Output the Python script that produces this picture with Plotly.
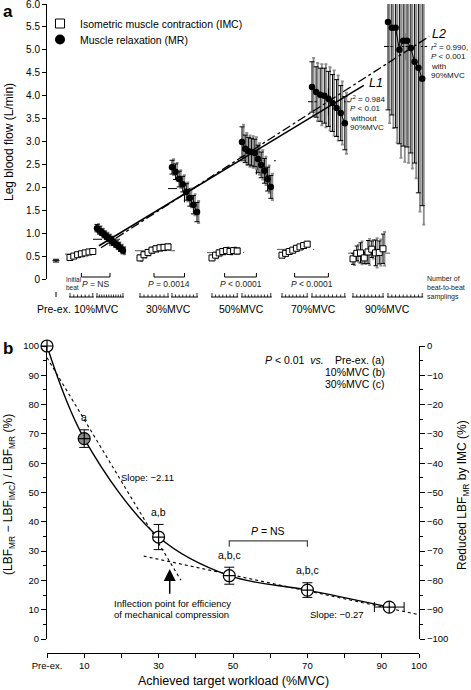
import plotly.graph_objects as go
import numpy as np

W, H = 471, 690
FONT = "Liberation Sans, Arial, Helvetica, sans-serif"


def px(x):
    return x / W


def py(y):
    return 1 - y / H


# ---------------- Panel a data (leg blood flow, L/min) ----------------
group_labels = ["10%MVC", "30%MVC", "50%MVC", "70%MVC", "90%MVC"]
preex_label = "Pre-ex."
preex_lbf = [0.40]
preex_sd = [0.03]

imc_10 = [0.47, 0.50, 0.53, 0.55, 0.57, 0.59, 0.60]
imc_30 = [0.46, 0.53, 0.58, 0.63, 0.66, 0.68, 0.69, 0.70]
imc_50 = [0.46, 0.52, 0.57, 0.60, 0.62, 0.60, 0.62, 0.61]
imc_70 = [0.52, 0.56, 0.60, 0.63, 0.67, 0.70, 0.73, 0.76]
imc_90 = [0.44, 0.56, 0.57, 0.46, 0.59, 0.65, 0.57, 0.58, 0.66]

imc_sd_10 = [0.04, 0.04, 0.04, 0.04, 0.04, 0.04, 0.04]
imc_sd_30 = [0.06, 0.06, 0.06, 0.06, 0.06, 0.06, 0.06, 0.06]
imc_sd_50 = [0.05, 0.06, 0.06, 0.06, 0.06, 0.06, 0.06, 0.06]
imc_sd_70 = [0.05, 0.05, 0.05, 0.05, 0.05, 0.05, 0.05, 0.05]
imc_sd_90 = [0.12, 0.16, 0.22, 0.12, 0.25, 0.18, 0.28, 0.25, 0.32]

mr_10 = [1.11, 1.06, 1.02, 0.97, 0.93, 0.89, 0.85, 0.80, 0.76, 0.72, 0.67, 0.62]
mr_30 = [2.44, 2.34, 2.18, 2.07, 1.90, 1.77, 1.62, 1.46]
mr_50 = [2.99, 2.84, 2.79, 2.77, 2.75, 2.62, 2.49, 2.36, 2.18, 2.01]
mr_70 = [4.19, 4.08, 4.02, 4.00, 3.93, 3.84, 3.73, 3.62, 3.40]
mr_90 = [5.61, 5.48, 5.48, 5.00, 5.20, 5.20, 5.04, 4.74, 4.61, 4.37]

mr_sd_10 = [0.08, 0.08, 0.07, 0.07, 0.07, 0.07, 0.07, 0.07, 0.07, 0.07, 0.07, 0.07]
mr_sd_30 = [0.15, 0.17, 0.17, 0.17, 0.18, 0.18, 0.20, 0.21]
mr_sd_50 = [0.33, 0.30, 0.30, 0.30, 0.30, 0.30, 0.28, 0.27, 0.26, 0.25]
mr_sd_70 = [0.55, 0.55, 0.58, 0.60, 0.60, 0.62, 0.62, 0.60, 0.58]
mr_sd_90 = [1.92, 1.90, 2.18, 2.05, 2.30, 2.32, 2.29, 2.21, 2.73, 2.77]

p_labels = ["<i>P</i> = NS", "<i>P</i> = 0.0014", "<i>P</i> < 0.0001", "<i>P</i> < 0.0001", ""]
r2_L1 = "0.984"
p_L1 = "< 0.01"
r2_L2 = "0.990"
p_L2 = "< 0.001"
legend_imc = "Isometric muscle contraction (IMC)"
legend_mr = "Muscle relaxation (MR)"
ytick_vals_a = [0, 0.5, 1.0, 1.5, 2.0, 2.5, 3.0, 3.5, 4.0, 4.5, 5.0, 5.5, 6.0]
ytick_text_a = ["0", "0.5", "1.0", "1.5", "2.0", "2.5", "3.0", "3.5", "4.0", "4.5", "5.0", "5.5", "6.0"]

# ---------------- Panel b data ----------------
workload = [0, 10, 30, 49, 70, 92]
reduction = [100, 68.4, 34.8, 21.6, 16.7, 10.9]
reduction_sd = [0, 3.0, 4.3, 2.9, 2.5, 0]
workload_sd = [0, 0, 0, 0, 0, 4.0]
sig_labels = ["", "a", "a,b", "a,b,c", "a,b,c", ""]
steep_slope, steep_intercept, steep_x = -2.11, 96.0, [0, 36]
shallow_slope, shallow_intercept, shallow_x = -0.27, 35.3, [26, 100]
xtick_vals_b = [0, 10, 30, 50, 70, 90, 100]
xtick_text_b = ["Pre-ex.", "10", "30", "50", "70", "90", "100"]

# ---------------- layout constants (pixel positions of sampling slots) ----------------
imc_sets = [imc_10, imc_30, imc_50, imc_70, imc_90]
imc_sds = [imc_sd_10, imc_sd_30, imc_sd_50, imc_sd_70, imc_sd_90]
mr_sets = [mr_10, mr_30, mr_50, mr_70, mr_90]
mr_sds = [mr_sd_10, mr_sd_30, mr_sd_50, mr_sd_70, mr_sd_90]
imc_start = [70, 140, 212, 282, 353]
imc_step = [3.8, 4.0, 3.6, 3.6, 3.75]
mr_start = [97, 172, 242, 312, 388]
mr_step = [2.36, 3.57, 3.2, 4.1, 3.8]
preex_x = 56
GRAY = "#8c8c8c"

fig = go.Figure()

imc_x = [[s + i * st for i in range(len(v))] for s, st, v in zip(imc_start, imc_step, imc_sets)]
mr_x = [[s + i * st for i in range(len(v))] for s, st, v in zip(mr_start, mr_step, mr_sets)]

# Pre-exercise
fig.add_trace(go.Scatter(x=[preex_x], y=preex_lbf, mode="markers", showlegend=False,
                         marker=dict(symbol="line-ew", size=5, line=dict(color="black", width=1)),
                         error_y=dict(type="data", array=preex_sd, color="black", thickness=1, width=3),
                         xaxis="x", yaxis="y"))

for g in range(5):
    xi, yi, si = imc_x[g], imc_sets[g], imc_sds[g]
    xm, ym, sm = mr_x[g], mr_sets[g], mr_sds[g]
    im = float(np.mean(yi))
    fig.add_trace(go.Scatter(x=[xi[0] - 5, xi[-1] + 7], y=[im, im], mode="lines", showlegend=False,
                             line=dict(color="#555", width=1, dash="dash"), hoverinfo="skip"))
    mm, mx = float(np.mean(ym)), float(np.mean(xm))
    half = 0.15 if g == 0 else 0.3
    fig.add_trace(go.Scatter(x=[xm[0] - 4, xm[-1] + 5], y=[mm, mm], mode="lines", showlegend=False,
                             line=dict(color="black", width=1, dash="dash"), hoverinfo="skip"))
    fig.add_trace(go.Scatter(x=[mx, mx], y=[mm - half, mm + half], mode="lines", showlegend=False,
                             line=dict(color="black", width=1, dash="dash"), hoverinfo="skip"))
    fig.add_trace(go.Scatter(x=[v + 1.6 for v in xi], y=yi, mode="markers", showlegend=False,
                             marker=dict(size=1, color="rgba(0,0,0,0)"),
                             error_y=dict(type="data", array=[s * 1.15 for s in si], color=GRAY,
                                          thickness=1.6, width=1.5), hoverinfo="skip"))
    fig.add_trace(go.Scatter(x=[v + 1.6 for v in xm], y=ym, mode="markers", showlegend=False,
                             marker=dict(size=1, color="rgba(0,0,0,0)"),
                             error_y=dict(type="data", array=[s * 1.15 for s in sm], color=GRAY,
                                          thickness=1.8, width=1.5), hoverinfo="skip"))
    fig.add_trace(go.Scatter(x=xi, y=yi, mode="markers", showlegend=False,
                             marker=dict(symbol="square", size=6, color="white",
                                         line=dict(color="black", width=1)),
                             error_y=dict(type="data", array=si, color="black", thickness=1, width=2)))
    fig.add_trace(go.Scatter(x=xm, y=ym, mode="lines+markers", showlegend=False,
                             line=dict(color="black", width=1),
                             marker=dict(symbol="circle", size=6.5, color="black"),
                             error_y=dict(type="data", array=sm, color="black", thickness=1, width=2.5)))

# regression lines L1 (10-70 %MVC) and L2 (10-90 %MVC) through group means
gx = [float(np.mean(x)) for x in mr_x]
gy = [float(np.mean(y)) for y in mr_sets]
b1, a1 = np.polyfit(gx[:4], gy[:4], 1)
b2, a2 = np.polyfit(gx, gy, 1)
L1x = [mr_x[0][0] + 2, mr_x[3][-1] + 19]
L2x = [mr_x[0][0] + 4, mr_x[4][-1] + 7]
fig.add_trace(go.Scatter(x=L1x, y=[a1 + b1 * v for v in L1x], mode="lines", showlegend=False,
                         line=dict(color="black", width=1.6)))
fig.add_trace(go.Scatter(x=L2x, y=[a2 + b2 * v for v in L2x], mode="lines", showlegend=False,
                         line=dict(color="black", width=1.3, dash="dashdot")))

# legend entries (one legend each so rows can sit exactly)
fig.add_trace(go.Scatter(x=[None], y=[None], mode="markers", name=legend_imc, legend="legend",
                         marker=dict(symbol="square", size=9, color="white", line=dict(color="black", width=1))))
fig.add_trace(go.Scatter(x=[None], y=[None], mode="markers", name=legend_mr, legend="legend2",
                         marker=dict(symbol="circle", size=10, color="black")))

shapes = []
annotations = []

ROW_Y = 297


def add_tickrow(xs):
    shapes.append(dict(type="line", xref="x", yref="paper", x0=xs[0] - 1, x1=xs[-1] + 1,
                       y0=py(ROW_Y), y1=py(ROW_Y), line=dict(color="black", width=1)))
    for k, v in enumerate(xs):
        h = 4 if k in (0, len(xs) - 1) else 2.5
        shapes.append(dict(type="line", xref="x", yref="paper", x0=v, x1=v,
                           y0=py(ROW_Y), y1=py(ROW_Y - h), line=dict(color="black", width=0.8)))


shapes.append(dict(type="line", xref="x", yref="paper", x0=preex_x, x1=preex_x,
                   y0=py(ROW_Y), y1=py(ROW_Y - 5), line=dict(color="black", width=1)))
for g in range(5):
    add_tickrow(imc_x[g])
    add_tickrow(mr_x[g])
    if p_labels[g]:
        bx0, bx1 = float(np.mean(imc_x[g])), float(np.mean(mr_x[g]))
        shapes.append(dict(type="path", xref="x", yref="paper",
                           path=f"M{bx0},{py(273)} L{bx0},{py(277)} L{bx1},{py(277)} L{bx1},{py(273)}",
                           line=dict(color="black", width=1)))
        annotations.append(dict(x=(bx0 + bx1) / 2, y=py(284), xref="x", yref="paper", text=p_labels[g],
                                showarrow=False, font=dict(size=8.5, color="#222"), xanchor="center",
                                yanchor="middle"))
    gc = (imc_x[g][0] + mr_x[g][-1]) / 2
    annotations.append(dict(x=gc, y=py(309), xref="x", yref="paper", text=group_labels[g], showarrow=False,
                            font=dict(size=10.5), xanchor="center", yanchor="middle"))
annotations.append(dict(x=54, y=py(309), xref="x", yref="paper", text=preex_label, showarrow=False,
                        font=dict(size=10.5), xanchor="center", yanchor="middle"))
annotations.append(dict(x=px(64), y=py(283.5), xref="paper", yref="paper", text="Initial<br>beat",
                        showarrow=False, font=dict(size=6.5, color="#222"), xanchor="left", yanchor="middle",
                        align="left"))
annotations.append(dict(x=px(425), y=py(288), xref="paper", yref="paper",
                        text="Number of<br>beat-to-beat<br>samplings", showarrow=False,
                        font=dict(size=7, color="#222"), xanchor="left", yanchor="middle", align="left"))

annotations.append(dict(x=px(367), y=py(83), xref="paper", yref="paper", text="<i>L1</i>", showarrow=False,
                        font=dict(size=12.5), xanchor="left", yanchor="middle"))
annotations.append(dict(x=px(430), y=py(34), xref="paper", yref="paper", text="<i>L2</i>", showarrow=False,
                        font=dict(size=12.5), xanchor="left", yanchor="middle"))
for i, t in enumerate([f"<i>r</i><sup>2</sup> = {r2_L1}", f"<i>P</i> {p_L1}", "without", "90%MVC"]):
    annotations.append(dict(x=px(348), y=py(99 + 9.5 * i), xref="paper", yref="paper", text=t, showarrow=False,
                            font=dict(size=8, color="#111"), xanchor="left", yanchor="middle"))
for i, t in enumerate([f"<i>r</i><sup>2</sup> = {r2_L2},", f"<i>P</i> {p_L2}", "with", "90%MVC"]):
    annotations.append(dict(x=px(429), y=py(47 + 9.5 * i), xref="paper", yref="paper", text=t, showarrow=False,
                            font=dict(size=8, color="#111"), xanchor="left", yanchor="middle"))

annotations.append(dict(x=px(1), y=py(0), xref="paper", yref="paper", text="<b>a</b>", showarrow=False,
                        font=dict(size=17), xanchor="left", yanchor="top"))
annotations.append(dict(x=px(1), y=py(337), xref="paper", yref="paper", text="<b>b</b>", showarrow=False,
                        font=dict(size=17), xanchor="left", yanchor="top"))
annotations.append(dict(x=px(9), y=py(142), xref="paper", yref="paper", text="Leg blood flow (L/min)",
                        showarrow=False, textangle=-90, font=dict(size=12), xanchor="center", yanchor="middle"))

# ---------------- Panel b traces ----------------
fig.add_trace(go.Scatter(x=workload, y=reduction, mode="lines",
                         line=dict(color="black", width=1.4, shape="spline", smoothing=1.0),
                         showlegend=False, xaxis="x2", yaxis="y2", cliponaxis=False))
fig.add_trace(go.Scatter(x=steep_x, y=[steep_intercept + steep_slope * v for v in steep_x], mode="lines",
                         line=dict(color="black", width=1.1, dash="dot"), showlegend=False,
                         xaxis="x2", yaxis="y2", cliponaxis=False))
fig.add_trace(go.Scatter(x=shallow_x, y=[shallow_intercept + shallow_slope * v for v in shallow_x], mode="lines",
                         line=dict(color="black", width=1.1, dash="dot"), showlegend=False,
                         xaxis="x2", yaxis="y2", cliponaxis=False))
fill_cols = ["white", "#8a8a8a", "white", "white", "white", "white"]
fig.add_trace(go.Scatter(x=workload, y=reduction, mode="markers", showlegend=False, xaxis="x2", yaxis="y2",
                         cliponaxis=False,
                         marker=dict(symbol="circle-cross", size=12, color=fill_cols,
                                     line=dict(color="black", width=1.2)),
                         error_y=dict(type="data", array=reduction_sd, color="black", thickness=1, width=5),
                         error_x=dict(type="data", array=workload_sd, color="black", thickness=1, width=5)))
fig.add_trace(go.Scatter(x=workload, y=[r - 100 for r in reduction], mode="markers", showlegend=False,
                         marker=dict(opacity=0), xaxis="x2", yaxis="y3", hoverinfo="skip"))

for xv, yv, sd, lab in zip(workload, reduction, reduction_sd, sig_labels):
    if lab:
        annotations.append(dict(x=xv, y=yv + sd + 1.5, xref="x2", yref="y2", text=lab, showarrow=False,
                                font=dict(size=10.5), xanchor="center", yanchor="bottom"))

xi_inf = (shallow_intercept - steep_intercept) / (steep_slope - shallow_slope)
yi_inf = steep_intercept + steep_slope * xi_inf
annotations.append(dict(x=xi_inf, y=yi_inf - 2.5, xref="x2", yref="y2", ax=xi_inf, ay=yi_inf - 11.5,
                        axref="x2", ayref="y2", text="", showarrow=True, arrowhead=2, arrowsize=1.6,
                        arrowwidth=1.5, arrowcolor="black"))
annotations.append(dict(x=px(112), y=py(603), xref="paper", yref="paper",
                        text="Inflection point for efficiency", showarrow=False, font=dict(size=9.5),
                        xanchor="left", yanchor="middle"))
annotations.append(dict(x=px(112), y=py(614.5), xref="paper", yref="paper",
                        text="of mechanical compression", showarrow=False, font=dict(size=9.5),
                        xanchor="left", yanchor="middle"))
annotations.append(dict(x=27, y=55, xref="x2", yref="y2", text=f"Slope: {steep_slope:.2f}".replace("-", "−"),
                        showarrow=False, font=dict(size=9.5), xanchor="center", yanchor="middle"))
annotations.append(dict(x=78, y=8.5, xref="x2", yref="y2", text=f"Slope: {shallow_slope:.2f}".replace("-", "−"),
                        showarrow=False, font=dict(size=9.5), xanchor="center", yanchor="middle"))

shapes.append(dict(type="path", xref="x2", yref="y2",
                   path=f"M{workload[3]},31.5 L{workload[3]},33.5 L{workload[4]},33.5 L{workload[4]},31.5",
                   line=dict(color="#444", width=1.2)))
annotations.append(dict(x=(workload[3] + workload[4]) / 2, y=37, xref="x2", yref="y2", text="<i>P</i> = NS",
                        showarrow=False, font=dict(size=10.5), xanchor="center", yanchor="middle"))

annotations.append(dict(x=px(263), y=py(360), xref="paper", yref="paper", text="<i>P</i> < 0.01  <i>vs.</i>",
                        showarrow=False, font=dict(size=10.5), xanchor="left", yanchor="middle"))
for i, t in enumerate(["Pre-ex. (a)", "10%MVC (b)", "30%MVC (c)"]):
    annotations.append(dict(x=px(387), y=py(360 + 12 * i), xref="paper", yref="paper", text=t, showarrow=False,
                            font=dict(size=10.5), xanchor="right", yanchor="middle"))

annotations.append(dict(x=px(9), y=py(495), xref="paper", yref="paper",
                        text="(LBF<sub>MR</sub> − LBF<sub>IMC</sub>) / LBF<sub>MR</sub> (%)", showarrow=False,
                        textangle=-90, font=dict(size=12), xanchor="center", yanchor="middle"))
annotations.append(dict(x=px(463), y=py(495), xref="paper", yref="paper",
                        text="Reduced LBF<sub>MR</sub> by IMC (%)", showarrow=False,
                        textangle=-90, font=dict(size=12), xanchor="center", yanchor="middle"))
annotations.append(dict(x=px(233), y=py(681), xref="paper", yref="paper",
                        text="Achieved target workload (%MVC)", showarrow=False,
                        font=dict(size=12.5), xanchor="center", yanchor="middle"))

axis_common = dict(showgrid=False, zeroline=False, showline=True, linecolor="black", linewidth=1,
                   ticks="outside", tickcolor="black", automargin=False)

fig.update_layout(
    width=W, height=H, margin=dict(l=0, r=0, t=0, b=0),
    paper_bgcolor="white", plot_bgcolor="rgba(0,0,0,0)",
    font=dict(family=FONT, size=10, color="black"),
    xaxis=dict(domain=[px(47), 1], range=[47, 471], visible=False, fixedrange=True),
    yaxis=dict(domain=[py(279), py(4)], range=[0, 6], anchor="x", tickvals=ytick_vals_a, ticktext=ytick_text_a,
               ticklen=4, tickfont=dict(size=10), ticklabeloverflow="allow", **axis_common),
    xaxis2=dict(domain=[px(47), px(419)], range=[0, 100], anchor="free", position=py(653),
                tickvals=xtick_vals_b, ticktext=xtick_text_b, ticklen=4, tickfont=dict(size=9.5),
                minor=dict(tickvals=[20, 40, 60, 80], ticklen=4, ticks="outside", tickcolor="black"),
                **axis_common),
    yaxis2=dict(domain=[py(639), py(346)], range=[0, 100], anchor="x2", dtick=10, ticklen=5,
                tickfont=dict(size=9.5), ticklabeloverflow="allow",
                minor=dict(dtick=5, ticklen=3, ticks="outside", tickcolor="black"), **axis_common),
    yaxis3=dict(overlaying="y2", side="right", anchor="x2", range=[-100, 0], dtick=10, ticklen=5,
                tickfont=dict(size=9.5), ticklabeloverflow="allow",
                minor=dict(dtick=5, ticklen=3, ticks="outside", tickcolor="black"), **axis_common),
    legend=dict(x=px(40), y=py(9), xanchor="left", yanchor="top", font=dict(size=10.5),
                bgcolor="rgba(0,0,0,0)", itemwidth=30),
    legend2=dict(x=px(40), y=py(25), xanchor="left", yanchor="top", font=dict(size=10.5),
                 bgcolor="rgba(0,0,0,0)", itemwidth=30),
    shapes=shapes, annotations=annotations,
)

fig.write_html("out.html", config={"displayModeBar": False},
               post_script="document.body.style.margin='0px';document.body.style.overflow='hidden';")
